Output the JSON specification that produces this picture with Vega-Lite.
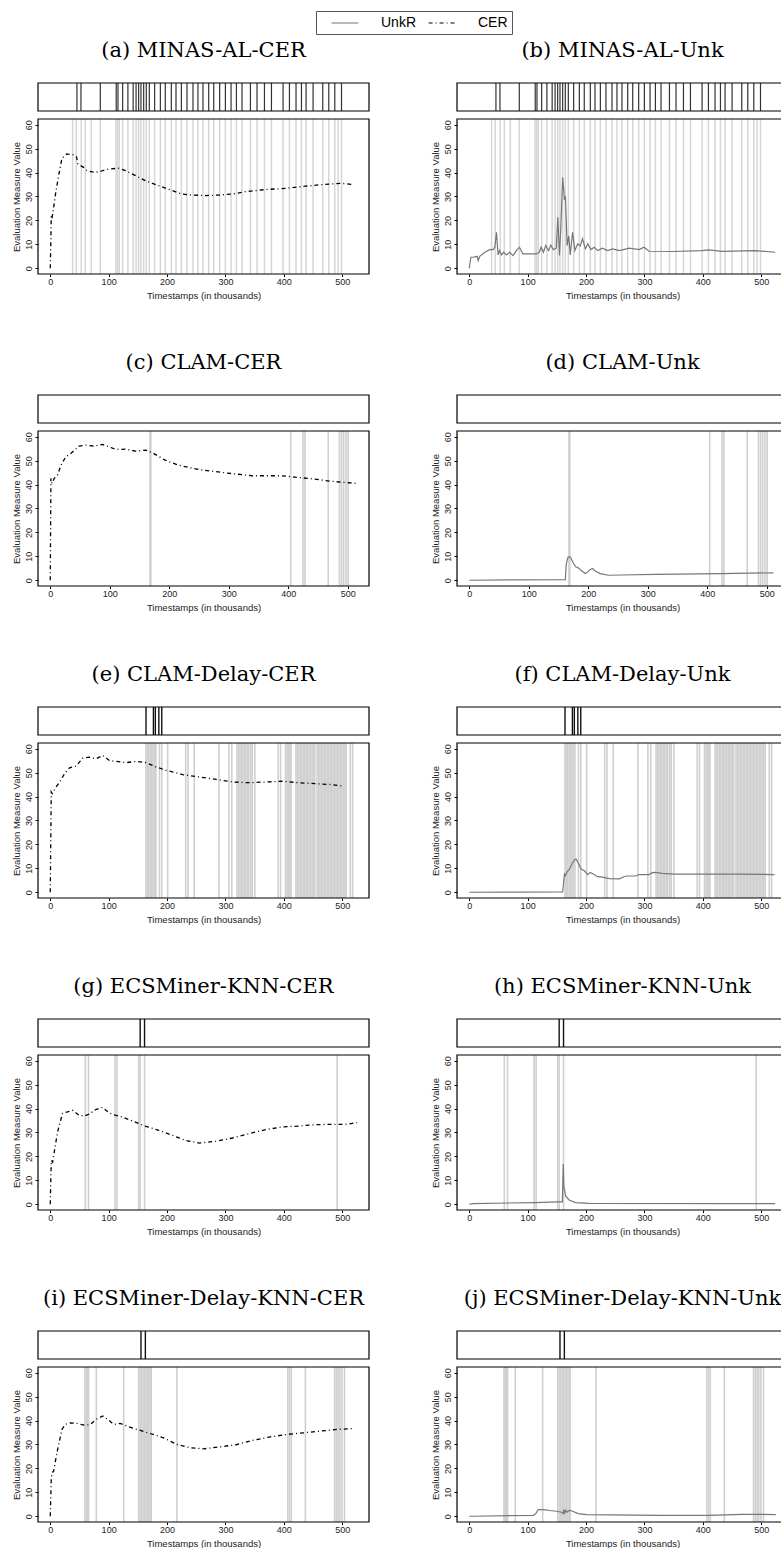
{
"$schema": "https://vega.github.io/schema/vega-lite/v6.json",
"padding": {"left": 11, "top": 10, "right": 0, "bottom": 0},
"config": {
  "view": {"stroke": null},
  "axis": {"labelFont": "Liberation Sans", "titleFont": "Liberation Sans", "labelFontSize": 9, "titleFontSize": 9.5, "titleFontWeight": "normal", "labelColor": "#222", "titleColor": "#222", "tickColor": "#000", "domain": false, "grid": false, "labelOverlap": false, "labelFlush": false},
  "axisY": {"labelAngle": 270, "labelAlign": "center", "labelBaseline": "bottom", "labelPadding": 1.5, "titlePadding": 3, "tickSize": 3, "titleY": 113.5},
  "title": {"font": "DejaVu Serif", "fontSize": 21, "fontWeight": "normal", "anchor": "middle", "offset": 21, "color": "#000"},
  "rect": {"filled": false, "stroke": "#000", "strokeWidth": 1.2}
},
"datasets": {
  "box": [{}],
  "minas_ticks": [{"t":45.7},{"t":52.6},{"t":85.7},{"t":113},{"t":116},{"t":124},{"t":133},{"t":142},{"t":147},{"t":151.4},{"t":155.4},{"t":160},{"t":164.5},{"t":169.7},{"t":178.8},{"t":188.6},{"t":197},{"t":207.4},{"t":215.4},{"t":224.6},{"t":234.2},{"t":244.5},{"t":253},{"t":261.6},{"t":271.4},{"t":280},{"t":290.2},{"t":300},{"t":309.7},{"t":318.9},{"t":328.5},{"t":342.9},{"t":354.2},{"t":366.9},{"t":378.9},{"t":398.8},{"t":409.7},{"t":421},{"t":430.3},{"t":438.2},{"t":450.2},{"t":466.8},{"t":477.1},{"t":487.4},{"t":498.9}],
  "minas_drift": [{"t":38.3},{"t":44.6},{"t":53.1},{"t":60},{"t":70.3},{"t":85.7},{"t":112.6},{"t":115.4},{"t":118.3},{"t":124},{"t":133},{"t":142},{"t":147},{"t":151.4},{"t":155.4},{"t":160},{"t":164.5},{"t":169.7},{"t":178.8},{"t":188.6},{"t":197},{"t":207.4},{"t":215.4},{"t":224.6},{"t":234.2},{"t":244.5},{"t":253},{"t":261.6},{"t":271.4},{"t":280},{"t":290.2},{"t":300},{"t":309.7},{"t":318.9},{"t":328.5},{"t":342.9},{"t":354.2},{"t":366.9},{"t":378.9},{"t":398.8},{"t":409.7},{"t":421},{"t":430.3},{"t":438.2},{"t":450.2},{"t":466.8},{"t":477.1},{"t":487.4},{"t":493},{"t":498.9}],
  "clam_drift": [{"t":167.5},{"t":169},{"t":404},{"t":424.7},{"t":428},{"t":467},{"t":486},{"t":489.5},{"t":493},{"t":497},{"t":500.6}],
  "clamd_ticks": [{"t":164},{"t":176.7},{"t":180},{"t":186},{"t":191}],
  "clamd_drift": [{"t":164},{"t":166},{"t":168.5},{"t":171},{"t":173.5},{"t":176},{"t":178.5},{"t":181},{"t":187},{"t":191},{"t":201},{"t":232},{"t":236},{"t":246.6},{"t":289},{"t":306},{"t":311},{"t":320},{"t":322.5},{"t":325},{"t":327.5},{"t":330},{"t":332.5},{"t":335},{"t":337.5},{"t":340},{"t":343.5},{"t":346},{"t":350.5},{"t":390.5},{"t":394.5},{"t":403},{"t":405.5},{"t":408},{"t":410.5},{"t":412.5},{"t":421},{"t":423.5},{"t":426},{"t":428.5},{"t":431},{"t":433.5},{"t":436},{"t":438.5},{"t":441},{"t":443.5},{"t":446},{"t":448.5},{"t":451},{"t":453},{"t":457},{"t":459.5},{"t":462},{"t":464.5},{"t":467},{"t":469.5},{"t":472},{"t":474.5},{"t":477},{"t":479.5},{"t":482},{"t":484.5},{"t":487},{"t":489.5},{"t":492},{"t":494.5},{"t":497},{"t":499.5},{"t":502},{"t":504.5},{"t":507},{"t":514},{"t":518}],
  "ecs_ticks": [{"t":154},{"t":161.5}],
  "ecs_drift": [{"t":60},{"t":65.5},{"t":111},{"t":114.5},{"t":151.5},{"t":154},{"t":161.5},{"t":491.5}],
  "ecsd_ticks": [{"t":155.4},{"t":162.9}],
  "ecsd_drift": [{"t":59.4},{"t":61.7},{"t":64},{"t":65.7},{"t":78.9},{"t":125.7},{"t":151.5},{"t":154},{"t":156.5},{"t":159},{"t":161.5},{"t":164},{"t":166.5},{"t":169},{"t":171.5},{"t":173},{"t":217},{"t":407},{"t":410},{"t":413},{"t":437},{"t":487},{"t":490},{"t":493},{"t":496},{"t":499.5},{"t":504}],
  "cer_a": [{"t":0,"v":0,"series":"CER"},{"t":1.1,"v":12,"series":"CER"},{"t":1.7,"v":22,"series":"CER"},{"t":3,"v":21,"series":"CER"},{"t":5,"v":24,"series":"CER"},{"t":8.6,"v":30.4,"series":"CER"},{"t":14.3,"v":38.7,"series":"CER"},{"t":20,"v":46,"series":"CER"},{"t":28.6,"v":47.8,"series":"CER"},{"t":40,"v":47.4,"series":"CER"},{"t":45,"v":46.5,"series":"CER"},{"t":47.4,"v":43.6,"series":"CER"},{"t":57,"v":42.2,"series":"CER"},{"t":63,"v":40.8,"series":"CER"},{"t":77,"v":40,"series":"CER"},{"t":88.6,"v":40.7,"series":"CER"},{"t":100,"v":41.5,"series":"CER"},{"t":117,"v":41.8,"series":"CER"},{"t":128.6,"v":40.8,"series":"CER"},{"t":146,"v":38.7,"series":"CER"},{"t":163,"v":36.6,"series":"CER"},{"t":186,"v":34.5,"series":"CER"},{"t":208.6,"v":32.5,"series":"CER"},{"t":226,"v":31,"series":"CER"},{"t":243,"v":30.6,"series":"CER"},{"t":266,"v":30.4,"series":"CER"},{"t":288.6,"v":30.6,"series":"CER"},{"t":311,"v":31,"series":"CER"},{"t":334,"v":32,"series":"CER"},{"t":368.6,"v":32.9,"series":"CER"},{"t":403,"v":33.4,"series":"CER"},{"t":437,"v":34.3,"series":"CER"},{"t":471,"v":35.1,"series":"CER"},{"t":500,"v":35.5,"series":"CER"},{"t":517,"v":35,"series":"CER"}],
  "unk_b": [{"t":0,"v":0},{"t":2.8,"v":4.6},{"t":6.8,"v":4.6},{"t":13.6,"v":5},{"t":15.3,"v":3.2},{"t":18,"v":5},{"t":26.7,"v":6.7},{"t":35,"v":7.8},{"t":41,"v":7.8},{"t":43.8,"v":8.8},{"t":46.6,"v":15},{"t":49.4,"v":5.6},{"t":52,"v":7.4},{"t":55,"v":5.6},{"t":59,"v":6.7},{"t":63.6,"v":5.6},{"t":69.3,"v":6.7},{"t":75,"v":5.3},{"t":80.7,"v":7.4},{"t":86,"v":8.8},{"t":92,"v":6},{"t":103.4,"v":6},{"t":115,"v":6},{"t":120,"v":6.7},{"t":123,"v":8.8},{"t":127,"v":6.7},{"t":131,"v":9.5},{"t":135.8,"v":7.4},{"t":139.8,"v":9.7},{"t":144,"v":7.8},{"t":149,"v":8.4},{"t":151.7,"v":21.3},{"t":154.5,"v":5.3},{"t":157,"v":17.8},{"t":160,"v":38},{"t":163,"v":29},{"t":164.8,"v":29.7},{"t":167.6,"v":9.5},{"t":170.5,"v":13.6},{"t":173,"v":5.6},{"t":177,"v":15},{"t":181,"v":7.4},{"t":185.8,"v":10.2},{"t":190,"v":9.2},{"t":194,"v":12.3},{"t":199,"v":8.1},{"t":203,"v":10.2},{"t":208.5,"v":7.8},{"t":214,"v":8.8},{"t":220,"v":7.4},{"t":228,"v":8.4},{"t":237,"v":7.4},{"t":245.5,"v":8.1},{"t":257,"v":7.4},{"t":274,"v":8.4},{"t":291,"v":7.8},{"t":299.4,"v":8.8},{"t":308,"v":7.1},{"t":348,"v":7},{"t":399,"v":7.4},{"t":410,"v":7.7},{"t":433,"v":7.1},{"t":490,"v":7.4},{"t":524,"v":6.7}],
  "cer_c": [{"t":0,"v":0},{"t":1.1,"v":42.6},{"t":2.8,"v":40.5},{"t":6.7,"v":42.6},{"t":12.3,"v":44},{"t":17.8,"v":48},{"t":26,"v":51.6},{"t":34.6,"v":53},{"t":48.5,"v":56.1},{"t":59.6,"v":56.5},{"t":73.6,"v":56.1},{"t":87.5,"v":56.8},{"t":98.7,"v":55.8},{"t":109.8,"v":54.7},{"t":126.5,"v":54.8},{"t":143,"v":54},{"t":160,"v":54.4},{"t":171,"v":53.4},{"t":193,"v":50.2},{"t":215.7,"v":48.1},{"t":249,"v":46.3},{"t":294,"v":44.9},{"t":338,"v":43.7},{"t":388.5,"v":43.7},{"t":416,"v":43},{"t":444,"v":42.3},{"t":472,"v":41.4},{"t":494,"v":40.9},{"t":514,"v":40.5}],
  "unk_d": [{"t":0,"v":0},{"t":161.5,"v":0.3},{"t":163,"v":6.9},{"t":166,"v":9.7},{"t":170,"v":9.7},{"t":175.4,"v":6.9},{"t":179,"v":5.6},{"t":182.6,"v":5.3},{"t":186.5,"v":4.4},{"t":195,"v":2.8},{"t":199,"v":3.5},{"t":203,"v":4.4},{"t":207,"v":4.9},{"t":211.6,"v":3.9},{"t":220,"v":2.8},{"t":234,"v":2.1},{"t":256,"v":2.2},{"t":312,"v":2.5},{"t":423,"v":2.8},{"t":511,"v":3.1}],
  "cer_e": [{"t":0,"v":0},{"t":1.7,"v":42},{"t":3.4,"v":41.3},{"t":10,"v":44},{"t":16,"v":46},{"t":24.5,"v":49.6},{"t":33,"v":52},{"t":44.4,"v":52.8},{"t":55.8,"v":56.1},{"t":67,"v":56.5},{"t":78.6,"v":55.8},{"t":90,"v":57.2},{"t":101,"v":55.1},{"t":112.8,"v":54.7},{"t":130,"v":54.2},{"t":147,"v":54.7},{"t":164,"v":54.2},{"t":181,"v":52.4},{"t":198,"v":51},{"t":226.6,"v":49.2},{"t":255,"v":48.2},{"t":284,"v":47.2},{"t":312,"v":46.1},{"t":340.5,"v":45.8},{"t":369,"v":46.1},{"t":397.5,"v":46.4},{"t":426,"v":45.8},{"t":454.4,"v":45.4},{"t":483,"v":45},{"t":500,"v":44.4}],
  "unk_f": [{"t":0,"v":0},{"t":160,"v":0.1},{"t":163,"v":7.6},{"t":164.8,"v":6.9},{"t":167,"v":8.3},{"t":171.6,"v":9.7},{"t":176,"v":11.8},{"t":180,"v":13.5},{"t":183,"v":13.9},{"t":187.5,"v":11.8},{"t":191.5,"v":9.7},{"t":197,"v":9},{"t":203,"v":7.4},{"t":207,"v":8.3},{"t":212.5,"v":7.6},{"t":220,"v":6.5},{"t":228,"v":6.3},{"t":240,"v":5.7},{"t":257,"v":5.6},{"t":265,"v":6.5},{"t":269,"v":6.8},{"t":285,"v":6.8},{"t":291,"v":7.4},{"t":308,"v":7.4},{"t":313.6,"v":8.2},{"t":319,"v":8.3},{"t":330.7,"v":7.9},{"t":353,"v":7.6},{"t":404.5,"v":7.6},{"t":461,"v":7.6},{"t":523,"v":7.4}],
  "cer_g": [{"t":0,"v":0},{"t":1.7,"v":18.3},{"t":4,"v":17.6},{"t":6.8,"v":21.8},{"t":12.5,"v":30.2},{"t":21,"v":38},{"t":29.6,"v":38.6},{"t":38,"v":39.3},{"t":49.6,"v":37.2},{"t":58,"v":36.8},{"t":66.7,"v":37.7},{"t":78,"v":39.6},{"t":89.5,"v":40.5},{"t":101,"v":38.2},{"t":112,"v":37.2},{"t":123.7,"v":36.5},{"t":140.8,"v":34.8},{"t":163.6,"v":32.6},{"t":186,"v":30.9},{"t":209,"v":28.8},{"t":232,"v":26.7},{"t":255,"v":25.6},{"t":283,"v":26.3},{"t":312,"v":27.7},{"t":340,"v":29.5},{"t":369,"v":31.2},{"t":397,"v":32.3},{"t":426,"v":32.7},{"t":454,"v":33.3},{"t":483,"v":33.4},{"t":505.7,"v":33.4},{"t":525.7,"v":34.1}],
  "unk_h": [{"t":0,"v":0},{"t":5.7,"v":0.3},{"t":114,"v":0.7},{"t":151,"v":1},{"t":159.5,"v":1},{"t":161,"v":16.8},{"t":162,"v":7.7},{"t":165,"v":3.5},{"t":171,"v":1.8},{"t":182,"v":0.7},{"t":205,"v":0.4},{"t":524,"v":0.3}],
  "cer_i": [{"t":0,"v":0},{"t":1.7,"v":15.3},{"t":2.9,"v":18.1},{"t":5.7,"v":18.8},{"t":11.4,"v":26.5},{"t":20,"v":36.3},{"t":25.7,"v":38.4},{"t":34.3,"v":39},{"t":45.7,"v":38.8},{"t":60,"v":38},{"t":68.6,"v":38.4},{"t":80,"v":40.7},{"t":90,"v":41.9},{"t":100,"v":40.2},{"t":108.6,"v":38.4},{"t":120,"v":38.8},{"t":131.4,"v":37.7},{"t":148.6,"v":36.3},{"t":171,"v":34.6},{"t":194,"v":32.8},{"t":217,"v":30},{"t":240,"v":28.6},{"t":263,"v":28.2},{"t":291,"v":29},{"t":320,"v":30},{"t":348.6,"v":31.8},{"t":377,"v":33.2},{"t":406,"v":34.2},{"t":434,"v":34.9},{"t":463,"v":35.6},{"t":491,"v":36.3},{"t":520,"v":36.7}],
  "unk_j": [{"t":0,"v":0},{"t":7.4,"v":0},{"t":110,"v":0.4},{"t":114,"v":1.1},{"t":118,"v":2.8},{"t":127,"v":2.8},{"t":138,"v":2.4},{"t":149.6,"v":2.1},{"t":158,"v":1.7},{"t":161,"v":1.1},{"t":162,"v":2.8},{"t":163.8,"v":1.4},{"t":165.5,"v":2.5},{"t":167.8,"v":1.7},{"t":172,"v":2.5},{"t":177,"v":2.1},{"t":186.6,"v":1.1},{"t":200.8,"v":0.7},{"t":240.6,"v":0.6},{"t":326,"v":0.4},{"t":411,"v":0.4},{"t":468,"v":0.8},{"t":485,"v":0.8},{"t":525,"v":0.7}]
},
"columns": 2,
"spacing": {"row": 121, "column": 88},
"bounds": "flush",
"concat": [
  {"title": "(a) MINAS-AL-CER", "width": 331, "height": 191, "layer": [
    {"data": {"name": "minas_drift"}, "mark": {"type": "rule", "color": "#d6d6d6", "strokeWidth": 1.5}, "encoding": {"x": {"field": "t", "type": "quantitative", "scale": {"domain": [-21, 546], "nice": false, "zero": false}, "axis": {"values": [0,100,200,300,400,500], "title": "Timestamps (in thousands)", "tickSize": 2.5, "labelPadding": 1, "titlePadding": 4}}, "y": {"datum": -2.4, "type": "quantitative", "scale": {"domain": [-2.4, 77.45], "nice": false, "zero": false}, "axis": {"values": [0,10,20,30,40,50,60], "title": "Evaluation Measure Value", "titleY": 113.5}}, "y2": {"datum": 62.4}}},
    {"data": {"name": "minas_ticks"}, "mark": {"type": "rule", "color": "#333", "strokeWidth": 1.2}, "encoding": {"x": {"field": "t", "type": "quantitative"}, "y": {"datum": 65.745, "type": "quantitative", "axis": {"values": [0,10,20,30,40,50,60], "title": "Evaluation Measure Value", "titleY": 113.5}}, "y2": {"datum": 77.45}}},
    {"data": {"name": "cer_a"}, "mark": {"type": "line", "strokeWidth": 1.3}, "encoding": {"x": {"field": "t", "type": "quantitative"}, "y": {"field": "v", "type": "quantitative", "axis": {"values": [0,10,20,30,40,50,60], "title": "Evaluation Measure Value", "titleY": 113.5}},
      "color": {"field": "series", "type": "nominal", "scale": {"domain": ["UnkR", "CER"], "range": ["#777777", "#000000"]}, "legend": {"orient": "none", "legendX": 278, "legendY": -72, "direction": "horizontal", "title": null, "strokeColor": "#555", "padding": 4, "symbolType": "M-1.9,0H1.9", "symbolSize": 200, "symbolStrokeWidth": 1.2, "symbolOffset": 17, "labelFont": "Liberation Sans", "labelFontSize": 14, "labelColor": "#000", "columnPadding": -6, "labelOffset": 28, "labelExpr": "datum.label + '   '"}},
      "strokeDash": {"field": "series", "type": "nominal", "scale": {"domain": ["UnkR", "CER"], "range": [[1, 0], [4, 3, 1, 3]]}, "legend": {"orient": "none", "legendX": 278, "legendY": -72, "direction": "horizontal", "title": null, "strokeColor": "#555", "padding": 4, "symbolType": "M-1.9,0H1.9", "symbolSize": 200, "symbolStrokeWidth": 1.2, "symbolOffset": 17, "labelFont": "Liberation Sans", "labelFontSize": 14, "labelColor": "#000", "columnPadding": -6, "labelOffset": 28, "labelExpr": "datum.label + '   '"}}}},
    {"data": {"name": "box"}, "mark": "rect", "encoding": {"x": {"datum": -21, "type": "quantitative"}, "x2": {"datum": 546}, "y": {"datum": -2.4, "type": "quantitative", "axis": {"values": [0,10,20,30,40,50,60], "title": "Evaluation Measure Value", "titleY": 113.5}}, "y2": {"datum": 62.4}}},
    {"data": {"name": "box"}, "mark": "rect", "encoding": {"x": {"datum": -21, "type": "quantitative"}, "x2": {"datum": 546}, "y": {"datum": 65.745, "type": "quantitative", "axis": {"values": [0,10,20,30,40,50,60], "title": "Evaluation Measure Value", "titleY": 113.5}}, "y2": {"datum": 77.45}}}
  ]},
  {"title": "(b) MINAS-AL-Unk", "width": 331, "height": 191, "layer": [
    {"data": {"name": "minas_drift"}, "mark": {"type": "rule", "color": "#d6d6d6", "strokeWidth": 1.5}, "encoding": {"x": {"field": "t", "type": "quantitative", "scale": {"domain": [-21, 546], "nice": false, "zero": false}, "axis": {"values": [0,100,200,300,400,500], "title": "Timestamps (in thousands)", "tickSize": 2.5, "labelPadding": 1, "titlePadding": 4}}, "y": {"datum": -2.4, "type": "quantitative", "scale": {"domain": [-2.4, 77.45], "nice": false, "zero": false}, "axis": {"values": [0,10,20,30,40,50,60], "title": "Evaluation Measure Value", "titleY": 113.5}}, "y2": {"datum": 62.4}}},
    {"data": {"name": "minas_ticks"}, "mark": {"type": "rule", "color": "#333", "strokeWidth": 1.2}, "encoding": {"x": {"field": "t", "type": "quantitative"}, "y": {"datum": 65.745, "type": "quantitative", "axis": {"values": [0,10,20,30,40,50,60], "title": "Evaluation Measure Value", "titleY": 113.5}}, "y2": {"datum": 77.45}}},
    {"data": {"name": "unk_b"}, "mark": {"type": "line", "stroke": "#777777", "strokeWidth": 1.2}, "encoding": {"x": {"field": "t", "type": "quantitative"}, "y": {"field": "v", "type": "quantitative", "axis": {"values": [0,10,20,30,40,50,60], "title": "Evaluation Measure Value", "titleY": 113.5}}}},
    {"data": {"name": "box"}, "mark": "rect", "encoding": {"x": {"datum": -21, "type": "quantitative"}, "x2": {"datum": 546}, "y": {"datum": -2.4, "type": "quantitative", "axis": {"values": [0,10,20,30,40,50,60], "title": "Evaluation Measure Value", "titleY": 113.5}}, "y2": {"datum": 62.4}}},
    {"data": {"name": "box"}, "mark": "rect", "encoding": {"x": {"datum": -21, "type": "quantitative"}, "x2": {"datum": 546}, "y": {"datum": 65.745, "type": "quantitative", "axis": {"values": [0,10,20,30,40,50,60], "title": "Evaluation Measure Value", "titleY": 113.5}}, "y2": {"datum": 77.45}}}
  ]},
  {"title": "(c) CLAM-CER", "width": 331, "height": 191, "layer": [
    {"data": {"name": "clam_drift"}, "mark": {"type": "rule", "color": "#d0d0d0", "strokeWidth": 1.6}, "encoding": {"x": {"field": "t", "type": "quantitative", "scale": {"domain": [-20.6, 535.6], "nice": false, "zero": false}, "axis": {"values": [0,100,200,300,400,500], "title": "Timestamps (in thousands)", "tickSize": 2.5, "labelPadding": 1, "titlePadding": 4}}, "y": {"datum": -2.4, "type": "quantitative", "scale": {"domain": [-2.4, 77.45], "nice": false, "zero": false}, "axis": {"values": [0,10,20,30,40,50,60], "title": "Evaluation Measure Value", "titleY": 113.5}}, "y2": {"datum": 62.4}}},
    {"data": {"name": "cer_c"}, "mark": {"type": "line", "stroke": "#000", "strokeDash": [4, 3, 1, 3], "strokeWidth": 1.3}, "encoding": {"x": {"field": "t", "type": "quantitative"}, "y": {"field": "v", "type": "quantitative", "axis": {"values": [0,10,20,30,40,50,60], "title": "Evaluation Measure Value", "titleY": 113.5}}}},
    {"data": {"name": "box"}, "mark": "rect", "encoding": {"x": {"datum": -20.6, "type": "quantitative"}, "x2": {"datum": 535.6}, "y": {"datum": -2.4, "type": "quantitative", "axis": {"values": [0,10,20,30,40,50,60], "title": "Evaluation Measure Value", "titleY": 113.5}}, "y2": {"datum": 62.4}}},
    {"data": {"name": "box"}, "mark": "rect", "encoding": {"x": {"datum": -20.6, "type": "quantitative"}, "x2": {"datum": 535.6}, "y": {"datum": 65.745, "type": "quantitative", "axis": {"values": [0,10,20,30,40,50,60], "title": "Evaluation Measure Value", "titleY": 113.5}}, "y2": {"datum": 77.45}}}
  ]},
  {"title": "(d) CLAM-Unk", "width": 331, "height": 191, "layer": [
    {"data": {"name": "clam_drift"}, "mark": {"type": "rule", "color": "#d0d0d0", "strokeWidth": 1.6}, "encoding": {"x": {"field": "t", "type": "quantitative", "scale": {"domain": [-20.6, 535.6], "nice": false, "zero": false}, "axis": {"values": [0,100,200,300,400,500], "title": "Timestamps (in thousands)", "tickSize": 2.5, "labelPadding": 1, "titlePadding": 4}}, "y": {"datum": -2.4, "type": "quantitative", "scale": {"domain": [-2.4, 77.45], "nice": false, "zero": false}, "axis": {"values": [0,10,20,30,40,50,60], "title": "Evaluation Measure Value", "titleY": 113.5}}, "y2": {"datum": 62.4}}},
    {"data": {"name": "unk_d"}, "mark": {"type": "line", "stroke": "#777777", "strokeWidth": 1.2}, "encoding": {"x": {"field": "t", "type": "quantitative"}, "y": {"field": "v", "type": "quantitative", "axis": {"values": [0,10,20,30,40,50,60], "title": "Evaluation Measure Value", "titleY": 113.5}}}},
    {"data": {"name": "box"}, "mark": "rect", "encoding": {"x": {"datum": -20.6, "type": "quantitative"}, "x2": {"datum": 535.6}, "y": {"datum": -2.4, "type": "quantitative", "axis": {"values": [0,10,20,30,40,50,60], "title": "Evaluation Measure Value", "titleY": 113.5}}, "y2": {"datum": 62.4}}},
    {"data": {"name": "box"}, "mark": "rect", "encoding": {"x": {"datum": -20.6, "type": "quantitative"}, "x2": {"datum": 535.6}, "y": {"datum": 65.745, "type": "quantitative", "axis": {"values": [0,10,20,30,40,50,60], "title": "Evaluation Measure Value", "titleY": 113.5}}, "y2": {"datum": 77.45}}}
  ]},
  {"title": "(e) CLAM-Delay-CER", "width": 331, "height": 191, "layer": [
    {"data": {"name": "clamd_drift"}, "mark": {"type": "rule", "color": "#d0d0d0", "strokeWidth": 1.6}, "encoding": {"x": {"field": "t", "type": "quantitative", "scale": {"domain": [-21, 546], "nice": false, "zero": false}, "axis": {"values": [0,100,200,300,400,500], "title": "Timestamps (in thousands)", "tickSize": 2.5, "labelPadding": 1, "titlePadding": 4}}, "y": {"datum": -2.4, "type": "quantitative", "scale": {"domain": [-2.4, 77.45], "nice": false, "zero": false}, "axis": {"values": [0,10,20,30,40,50,60], "title": "Evaluation Measure Value", "titleY": 113.5}}, "y2": {"datum": 62.4}}},
    {"data": {"name": "clamd_ticks"}, "mark": {"type": "rule", "color": "#111", "strokeWidth": 1.4}, "encoding": {"x": {"field": "t", "type": "quantitative"}, "y": {"datum": 65.745, "type": "quantitative", "axis": {"values": [0,10,20,30,40,50,60], "title": "Evaluation Measure Value", "titleY": 113.5}}, "y2": {"datum": 77.45}}},
    {"data": {"name": "cer_e"}, "mark": {"type": "line", "stroke": "#000", "strokeDash": [4, 3, 1, 3], "strokeWidth": 1.3}, "encoding": {"x": {"field": "t", "type": "quantitative"}, "y": {"field": "v", "type": "quantitative", "axis": {"values": [0,10,20,30,40,50,60], "title": "Evaluation Measure Value", "titleY": 113.5}}}},
    {"data": {"name": "box"}, "mark": "rect", "encoding": {"x": {"datum": -21, "type": "quantitative"}, "x2": {"datum": 546}, "y": {"datum": -2.4, "type": "quantitative", "axis": {"values": [0,10,20,30,40,50,60], "title": "Evaluation Measure Value", "titleY": 113.5}}, "y2": {"datum": 62.4}}},
    {"data": {"name": "box"}, "mark": "rect", "encoding": {"x": {"datum": -21, "type": "quantitative"}, "x2": {"datum": 546}, "y": {"datum": 65.745, "type": "quantitative", "axis": {"values": [0,10,20,30,40,50,60], "title": "Evaluation Measure Value", "titleY": 113.5}}, "y2": {"datum": 77.45}}}
  ]},
  {"title": "(f) CLAM-Delay-Unk", "width": 331, "height": 191, "layer": [
    {"data": {"name": "clamd_drift"}, "mark": {"type": "rule", "color": "#d0d0d0", "strokeWidth": 1.6}, "encoding": {"x": {"field": "t", "type": "quantitative", "scale": {"domain": [-21, 546], "nice": false, "zero": false}, "axis": {"values": [0,100,200,300,400,500], "title": "Timestamps (in thousands)", "tickSize": 2.5, "labelPadding": 1, "titlePadding": 4}}, "y": {"datum": -2.4, "type": "quantitative", "scale": {"domain": [-2.4, 77.45], "nice": false, "zero": false}, "axis": {"values": [0,10,20,30,40,50,60], "title": "Evaluation Measure Value", "titleY": 113.5}}, "y2": {"datum": 62.4}}},
    {"data": {"name": "clamd_ticks"}, "mark": {"type": "rule", "color": "#111", "strokeWidth": 1.4}, "encoding": {"x": {"field": "t", "type": "quantitative"}, "y": {"datum": 65.745, "type": "quantitative", "axis": {"values": [0,10,20,30,40,50,60], "title": "Evaluation Measure Value", "titleY": 113.5}}, "y2": {"datum": 77.45}}},
    {"data": {"name": "unk_f"}, "mark": {"type": "line", "stroke": "#777777", "strokeWidth": 1.2}, "encoding": {"x": {"field": "t", "type": "quantitative"}, "y": {"field": "v", "type": "quantitative", "axis": {"values": [0,10,20,30,40,50,60], "title": "Evaluation Measure Value", "titleY": 113.5}}}},
    {"data": {"name": "box"}, "mark": "rect", "encoding": {"x": {"datum": -21, "type": "quantitative"}, "x2": {"datum": 546}, "y": {"datum": -2.4, "type": "quantitative", "axis": {"values": [0,10,20,30,40,50,60], "title": "Evaluation Measure Value", "titleY": 113.5}}, "y2": {"datum": 62.4}}},
    {"data": {"name": "box"}, "mark": "rect", "encoding": {"x": {"datum": -21, "type": "quantitative"}, "x2": {"datum": 546}, "y": {"datum": 65.745, "type": "quantitative", "axis": {"values": [0,10,20,30,40,50,60], "title": "Evaluation Measure Value", "titleY": 113.5}}, "y2": {"datum": 77.45}}}
  ]},
  {"title": "(g) ECSMiner-KNN-CER", "width": 331, "height": 191, "layer": [
    {"data": {"name": "ecs_drift"}, "mark": {"type": "rule", "color": "#d0d0d0", "strokeWidth": 1.6}, "encoding": {"x": {"field": "t", "type": "quantitative", "scale": {"domain": [-21, 546], "nice": false, "zero": false}, "axis": {"values": [0,100,200,300,400,500], "title": "Timestamps (in thousands)", "tickSize": 2.5, "labelPadding": 1, "titlePadding": 4}}, "y": {"datum": -2.4, "type": "quantitative", "scale": {"domain": [-2.4, 77.45], "nice": false, "zero": false}, "axis": {"values": [0,10,20,30,40,50,60], "title": "Evaluation Measure Value", "titleY": 113.5}}, "y2": {"datum": 62.4}}},
    {"data": {"name": "ecs_ticks"}, "mark": {"type": "rule", "color": "#111", "strokeWidth": 1.4}, "encoding": {"x": {"field": "t", "type": "quantitative"}, "y": {"datum": 65.745, "type": "quantitative", "axis": {"values": [0,10,20,30,40,50,60], "title": "Evaluation Measure Value", "titleY": 113.5}}, "y2": {"datum": 77.45}}},
    {"data": {"name": "cer_g"}, "mark": {"type": "line", "stroke": "#000", "strokeDash": [4, 3, 1, 3], "strokeWidth": 1.3}, "encoding": {"x": {"field": "t", "type": "quantitative"}, "y": {"field": "v", "type": "quantitative", "axis": {"values": [0,10,20,30,40,50,60], "title": "Evaluation Measure Value", "titleY": 113.5}}}},
    {"data": {"name": "box"}, "mark": "rect", "encoding": {"x": {"datum": -21, "type": "quantitative"}, "x2": {"datum": 546}, "y": {"datum": -2.4, "type": "quantitative", "axis": {"values": [0,10,20,30,40,50,60], "title": "Evaluation Measure Value", "titleY": 113.5}}, "y2": {"datum": 62.4}}},
    {"data": {"name": "box"}, "mark": "rect", "encoding": {"x": {"datum": -21, "type": "quantitative"}, "x2": {"datum": 546}, "y": {"datum": 65.745, "type": "quantitative", "axis": {"values": [0,10,20,30,40,50,60], "title": "Evaluation Measure Value", "titleY": 113.5}}, "y2": {"datum": 77.45}}}
  ]},
  {"title": "(h) ECSMiner-KNN-Unk", "width": 331, "height": 191, "layer": [
    {"data": {"name": "ecs_drift"}, "mark": {"type": "rule", "color": "#d0d0d0", "strokeWidth": 1.6}, "encoding": {"x": {"field": "t", "type": "quantitative", "scale": {"domain": [-21, 546], "nice": false, "zero": false}, "axis": {"values": [0,100,200,300,400,500], "title": "Timestamps (in thousands)", "tickSize": 2.5, "labelPadding": 1, "titlePadding": 4}}, "y": {"datum": -2.4, "type": "quantitative", "scale": {"domain": [-2.4, 77.45], "nice": false, "zero": false}, "axis": {"values": [0,10,20,30,40,50,60], "title": "Evaluation Measure Value", "titleY": 113.5}}, "y2": {"datum": 62.4}}},
    {"data": {"name": "ecs_ticks"}, "mark": {"type": "rule", "color": "#111", "strokeWidth": 1.4}, "encoding": {"x": {"field": "t", "type": "quantitative"}, "y": {"datum": 65.745, "type": "quantitative", "axis": {"values": [0,10,20,30,40,50,60], "title": "Evaluation Measure Value", "titleY": 113.5}}, "y2": {"datum": 77.45}}},
    {"data": {"name": "unk_h"}, "mark": {"type": "line", "stroke": "#777777", "strokeWidth": 1.2}, "encoding": {"x": {"field": "t", "type": "quantitative"}, "y": {"field": "v", "type": "quantitative", "axis": {"values": [0,10,20,30,40,50,60], "title": "Evaluation Measure Value", "titleY": 113.5}}}},
    {"data": {"name": "box"}, "mark": "rect", "encoding": {"x": {"datum": -21, "type": "quantitative"}, "x2": {"datum": 546}, "y": {"datum": -2.4, "type": "quantitative", "axis": {"values": [0,10,20,30,40,50,60], "title": "Evaluation Measure Value", "titleY": 113.5}}, "y2": {"datum": 62.4}}},
    {"data": {"name": "box"}, "mark": "rect", "encoding": {"x": {"datum": -21, "type": "quantitative"}, "x2": {"datum": 546}, "y": {"datum": 65.745, "type": "quantitative", "axis": {"values": [0,10,20,30,40,50,60], "title": "Evaluation Measure Value", "titleY": 113.5}}, "y2": {"datum": 77.45}}}
  ]},
  {"title": "(i) ECSMiner-Delay-KNN-CER", "width": 331, "height": 191, "layer": [
    {"data": {"name": "ecsd_drift"}, "mark": {"type": "rule", "color": "#d0d0d0", "strokeWidth": 1.6}, "encoding": {"x": {"field": "t", "type": "quantitative", "scale": {"domain": [-21, 546], "nice": false, "zero": false}, "axis": {"values": [0,100,200,300,400,500], "title": "Timestamps (in thousands)", "tickSize": 2.5, "labelPadding": 1, "titlePadding": 4}}, "y": {"datum": -2.4, "type": "quantitative", "scale": {"domain": [-2.4, 77.45], "nice": false, "zero": false}, "axis": {"values": [0,10,20,30,40,50,60], "title": "Evaluation Measure Value", "titleY": 113.5}}, "y2": {"datum": 62.4}}},
    {"data": {"name": "ecsd_ticks"}, "mark": {"type": "rule", "color": "#111", "strokeWidth": 1.4}, "encoding": {"x": {"field": "t", "type": "quantitative"}, "y": {"datum": 65.745, "type": "quantitative", "axis": {"values": [0,10,20,30,40,50,60], "title": "Evaluation Measure Value", "titleY": 113.5}}, "y2": {"datum": 77.45}}},
    {"data": {"name": "cer_i"}, "mark": {"type": "line", "stroke": "#000", "strokeDash": [4, 3, 1, 3], "strokeWidth": 1.3}, "encoding": {"x": {"field": "t", "type": "quantitative"}, "y": {"field": "v", "type": "quantitative", "axis": {"values": [0,10,20,30,40,50,60], "title": "Evaluation Measure Value", "titleY": 113.5}}}},
    {"data": {"name": "box"}, "mark": "rect", "encoding": {"x": {"datum": -21, "type": "quantitative"}, "x2": {"datum": 546}, "y": {"datum": -2.4, "type": "quantitative", "axis": {"values": [0,10,20,30,40,50,60], "title": "Evaluation Measure Value", "titleY": 113.5}}, "y2": {"datum": 62.4}}},
    {"data": {"name": "box"}, "mark": "rect", "encoding": {"x": {"datum": -21, "type": "quantitative"}, "x2": {"datum": 546}, "y": {"datum": 65.745, "type": "quantitative", "axis": {"values": [0,10,20,30,40,50,60], "title": "Evaluation Measure Value", "titleY": 113.5}}, "y2": {"datum": 77.45}}}
  ]},
  {"title": "(j) ECSMiner-Delay-KNN-Unk", "width": 331, "height": 191, "layer": [
    {"data": {"name": "ecsd_drift"}, "mark": {"type": "rule", "color": "#d0d0d0", "strokeWidth": 1.6}, "encoding": {"x": {"field": "t", "type": "quantitative", "scale": {"domain": [-21, 546], "nice": false, "zero": false}, "axis": {"values": [0,100,200,300,400,500], "title": "Timestamps (in thousands)", "tickSize": 2.5, "labelPadding": 1, "titlePadding": 4}}, "y": {"datum": -2.4, "type": "quantitative", "scale": {"domain": [-2.4, 77.45], "nice": false, "zero": false}, "axis": {"values": [0,10,20,30,40,50,60], "title": "Evaluation Measure Value", "titleY": 113.5}}, "y2": {"datum": 62.4}}},
    {"data": {"name": "ecsd_ticks"}, "mark": {"type": "rule", "color": "#111", "strokeWidth": 1.4}, "encoding": {"x": {"field": "t", "type": "quantitative"}, "y": {"datum": 65.745, "type": "quantitative", "axis": {"values": [0,10,20,30,40,50,60], "title": "Evaluation Measure Value", "titleY": 113.5}}, "y2": {"datum": 77.45}}},
    {"data": {"name": "unk_j"}, "mark": {"type": "line", "stroke": "#777777", "strokeWidth": 1.2}, "encoding": {"x": {"field": "t", "type": "quantitative"}, "y": {"field": "v", "type": "quantitative", "axis": {"values": [0,10,20,30,40,50,60], "title": "Evaluation Measure Value", "titleY": 113.5}}}},
    {"data": {"name": "box"}, "mark": "rect", "encoding": {"x": {"datum": -21, "type": "quantitative"}, "x2": {"datum": 546}, "y": {"datum": -2.4, "type": "quantitative", "axis": {"values": [0,10,20,30,40,50,60], "title": "Evaluation Measure Value", "titleY": 113.5}}, "y2": {"datum": 62.4}}},
    {"data": {"name": "box"}, "mark": "rect", "encoding": {"x": {"datum": -21, "type": "quantitative"}, "x2": {"datum": 546}, "y": {"datum": 65.745, "type": "quantitative", "axis": {"values": [0,10,20,30,40,50,60], "title": "Evaluation Measure Value", "titleY": 113.5}}, "y2": {"datum": 77.45}}}
  ]}
]
}
